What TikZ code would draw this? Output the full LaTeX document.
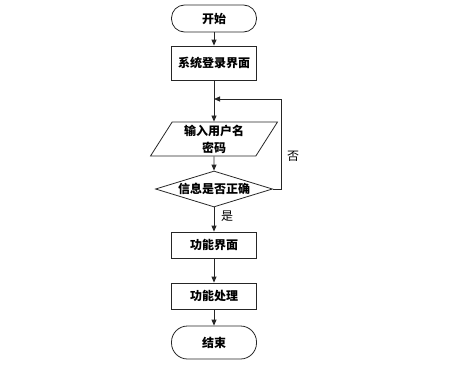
\documentclass[tikz,border=0pt]{standalone}
\usepackage{fontspec}
\newfontfamily\cjk{Noto Sans CJK SC}
\usetikzlibrary{arrows.meta,shapes.geometric}

\begin{document}
\begin{tikzpicture}[x=1pt,y=-1pt,
  box/.style={draw=black!85, line width=0.8pt, align=center, inner sep=0pt,
    font=\cjk\bfseries\fontsize{12}{17}\selectfont},
  term/.style={box, minimum width=85pt, rounded corners=13pt},
  proc/.style={box, minimum width=85pt},
  io/.style={box, trapezium, trapezium stretches=true, trapezium left angle=61.4,
    trapezium right angle=118.6, minimum width=128pt, minimum height=34pt},
  cond/.style={box, diamond, aspect=3.25, minimum width=117pt, minimum height=36pt},
  flow/.style={draw=black!85, line width=0.8pt, -{Triangle[length=6pt,width=5pt]}},
  lbl/.style={font=\cjk\fontsize{12}{14}\selectfont, inner sep=0pt}]

% Riquadro
\useasboundingbox (0,0) rectangle (463,364);

% Blocchi
\node[term, minimum height=27pt] (start) at (214,18.5) {开始};
\node[proc, minimum height=34pt] (login) at (214,63) {系统登录界面};
\node[io] (input) at (214,139) {输入用户名\\密码};
\node[cond] (check) at (214,189) {信息是否正确};
\node[proc, minimum height=26pt] (func) at (214,245) {功能界面};
\node[proc, minimum height=26pt] (handle) at (214,296) {功能处理};
\node[term, minimum height=33pt, rounded corners=16pt] (stop) at (214,342.5) {结束};

% Punto di rientro del ciclo
\coordinate (back) at (214,99);

% Frecce
\draw[flow] (start) -- (login);
\draw[flow] (login) -- (input);
\draw[flow] (input) -- (check);
\draw[flow] (check) -- (func);
\draw[flow] (func) -- (handle);
\draw[flow] (handle) -- (stop);
\draw[flow] (check.east) -- ++(8,0) |- (back);

% Etichette
\node[lbl] (no) at (293,156) {否};
\node[lbl] (yes) at (227,216) {是};

\end{tikzpicture}
\end{document}
